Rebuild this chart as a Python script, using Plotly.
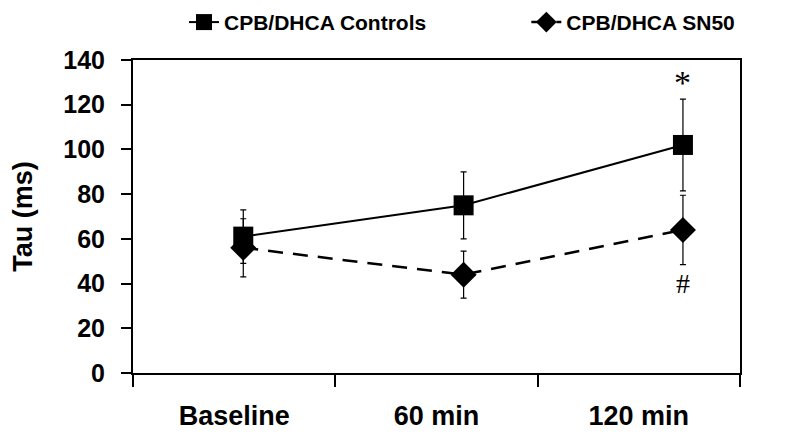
import plotly.graph_objects as go

categories = ["Baseline", "60 min", "120 min"]
category_index = [0, 1, 2]
# x positions of the plotted points (category units; points sit right of the label centres)
point_x = [0.045, 1.134, 2.218]
controls = [61, 75, 102]
controls_err = [12, 15, 20.5]
sn50 = [56, 44, 64]
sn50_err = [13, 10.5, 15.5]
y_ticks = [0, 20, 40, 60, 80, 100, 120, 140]
x_boundaries = [-0.5, 0.5, 1.5, 2.5]

fig = go.Figure()
fig.add_trace(go.Scatter(
    x=point_x, y=controls, name="CPB/DHCA Controls", mode="lines+markers",
    line=dict(color="black", width=2),
    marker=dict(symbol="square", size=20, color="black"),
    error_y=dict(type="data", array=controls_err, color="black", thickness=1.2, width=3),
    legend="legend",
))
fig.add_trace(go.Scatter(
    x=point_x, y=sn50, name="CPB/DHCA SN50", mode="lines+markers",
    line=dict(color="black", width=2.5, dash="15px,10px"),
    marker=dict(symbol="diamond", size=20, color="black"),
    error_y=dict(type="data", array=sn50_err, color="black", thickness=1.2, width=3),
    legend="legend2",
))

fig.add_annotation(x=point_x[2], y=130, text="*", showarrow=False,
                   font=dict(family="Liberation Serif", size=34, color="black"))
fig.add_annotation(x=point_x[2], y=40, text="#", showarrow=False,
                   font=dict(family="Liberation Serif", size=28, color="black"))

legend_font = dict(family="Liberation Sans", size=21, weight="bold")
fig.update_layout(
    width=800, height=439,
    margin=dict(l=125, r=68, t=52, b=74, autoexpand=False),
    paper_bgcolor="white", plot_bgcolor="white",
    font=dict(family="Liberation Sans", color="black"),
    showlegend=True,
    legend=dict(orientation="h", x=0.084, y=1.12, xanchor="left", yanchor="middle",
                font=legend_font, bgcolor="rgba(0,0,0,0)"),
    legend2=dict(orientation="h", x=0.648, y=1.12, xanchor="left", yanchor="middle",
                 font=legend_font, bgcolor="rgba(0,0,0,0)"),
)
fig.update_xaxes(
    range=[-0.5, 2.5], tickvals=category_index, ticktext=categories,
    showline=True, linecolor="black", linewidth=2, mirror=True,
    ticks="", ticklen=12,
    minor=dict(tickvals=x_boundaries, ticks="outside", ticklen=12, tickcolor="black",
               tickwidth=1.5, showgrid=False),
    tickfont=dict(family="Liberation Sans", size=27, weight="bold"),
    ticklabelstandoff=18,
    showgrid=False, zeroline=False,
)
fig.update_yaxes(
    range=[0, 140], tickvals=y_ticks,
    showline=True, linecolor="black", linewidth=2, mirror=True,
    ticks="outside", ticklen=10, tickcolor="black", tickwidth=1.5,
    tickfont=dict(family="Liberation Sans", size=25, weight="bold"),
    ticklabelstandoff=11,
    showgrid=False, zeroline=False,
    title=dict(text="Tau (ms)", font=dict(family="Liberation Sans", size=27, weight="bold"), standoff=26),
)

fig.write_html("out.html")
